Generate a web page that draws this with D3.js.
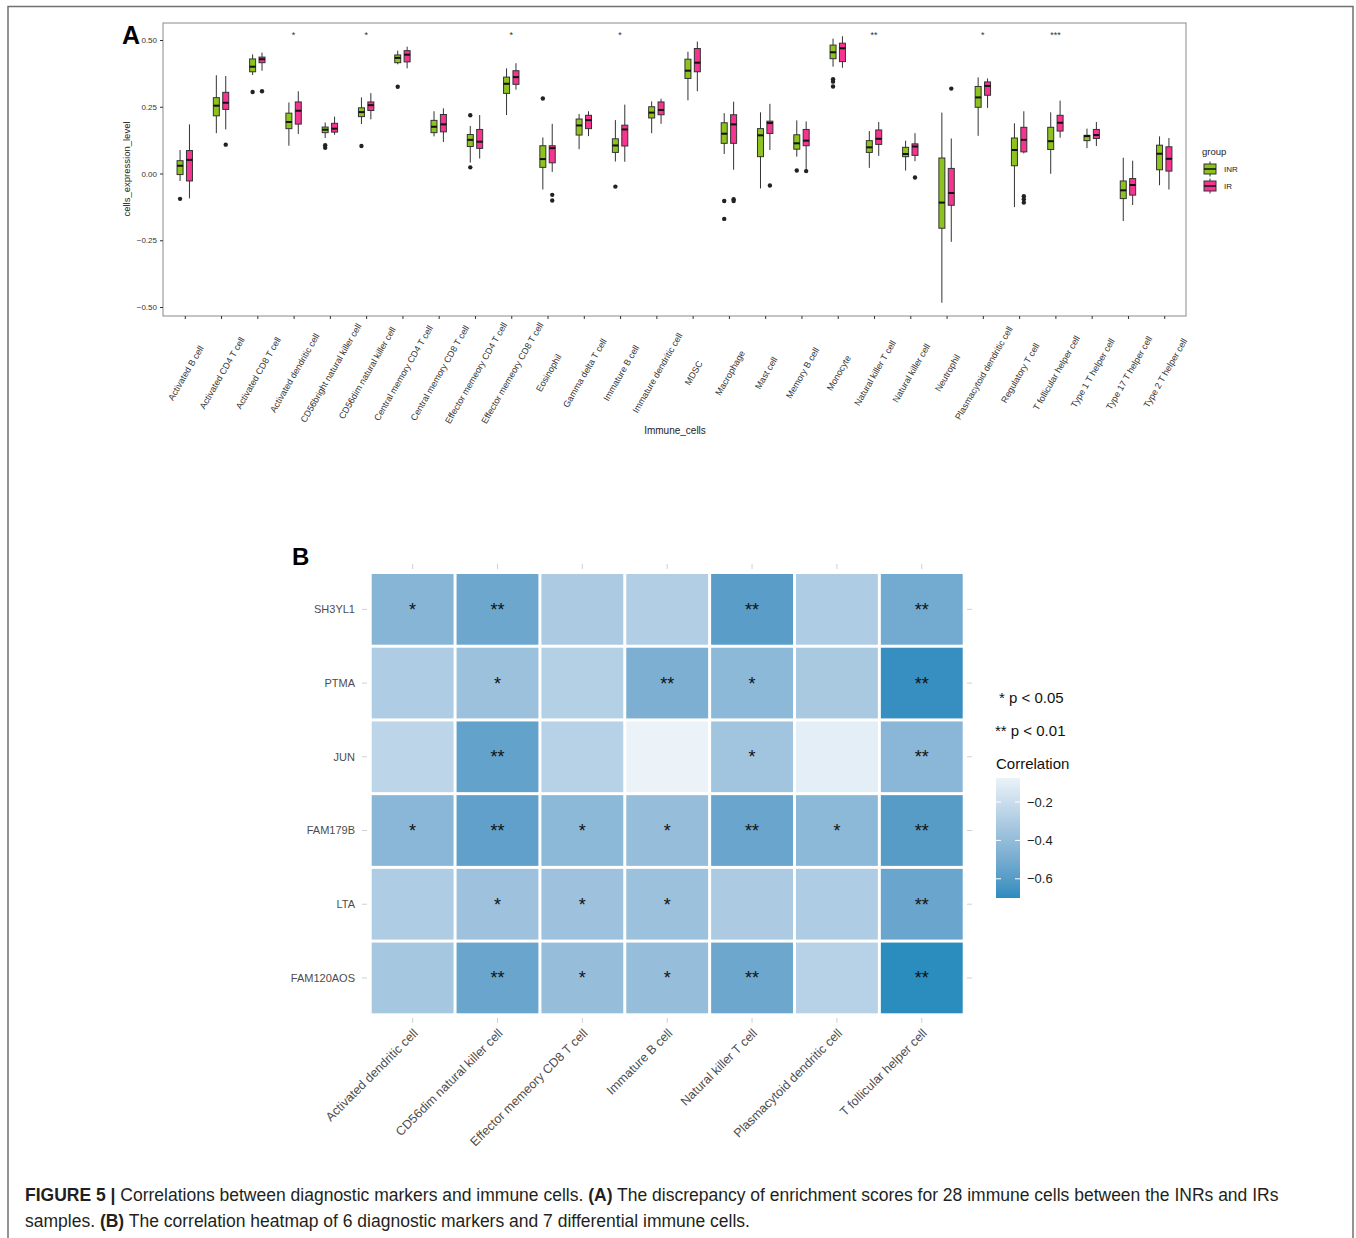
<!DOCTYPE html>
<html>
<head>
<meta charset="utf-8">
<script src="https://cdn.jsdelivr.net/npm/d3@7"></script>
<style>
  body { margin: 0; background: #fff; }
  svg { display: block; font-family: "Liberation Sans", Arial, sans-serif; }
</style>
</head>
<body>
<script>
// ---- Panel A data: 28 immune cells, box stats [lower whisker, q1, median, q3, upper whisker]
var cells = ["Activated B cell", "Activated CD4 T cell", "Activated CD8 T cell", "Activated dendritic cell",
  "CD56bright natural killer cell", "CD56dim natural killer cell", "Central memory CD4 T cell",
  "Central memory CD8 T cell", "Effector memeory CD4 T cell", "Effector memeory CD8 T cell", "Eosinophil",
  "Gamma delta T cell", "Immature  B cell", "Immature dendritic cell", "MDSC", "Macrophage", "Mast cell",
  "Memory B cell", "Monocyte", "Natural killer T cell", "Natural killer cell", "Neutrophil",
  "Plasmacytoid dendritic cell", "Regulatory T cell", "T follicular helper cell", "Type 1 T helper cell",
  "Type 17 T helper cell", "Type 2 T helper cell"];

var inrBox = [
  [-0.028, -0.004, 0.029, 0.048, 0.088], [0.151, 0.216, 0.254, 0.284, 0.368], [0.369, 0.381, 0.400, 0.429, 0.446],
  [0.104, 0.168, 0.193, 0.226, 0.266], [0.133, 0.153, 0.164, 0.174, 0.191], [0.185, 0.213, 0.230, 0.246, 0.285],
  [0.409, 0.415, 0.433, 0.444, 0.460], [0.139, 0.153, 0.175, 0.199, 0.233], [0.041, 0.101, 0.126, 0.146, 0.178],
  [0.219, 0.300, 0.336, 0.361, 0.394], [-0.060, 0.023, 0.054, 0.104, 0.135], [0.091, 0.144, 0.180, 0.204, 0.223],
  [0.045, 0.079, 0.105, 0.130, 0.200], [0.151, 0.208, 0.228, 0.250, 0.270], [0.274, 0.356, 0.385, 0.428, 0.456],
  [0.073, 0.113, 0.149, 0.190, 0.226], [-0.056, 0.063, 0.143, 0.168, 0.229], [0.063, 0.091, 0.113, 0.145, 0.199],
  [0.400, 0.430, 0.454, 0.481, 0.505], [0.021, 0.079, 0.098, 0.123, 0.159], [0.011, 0.063, 0.073, 0.098, 0.123],
  [-0.484, -0.205, -0.109, 0.058, 0.228], [0.141, 0.248, 0.285, 0.326, 0.360], [-0.126, 0.029, 0.088, 0.133, 0.188],
  [-0.001, 0.090, 0.121, 0.173, 0.229], [0.095, 0.123, 0.140, 0.143, 0.168], [-0.178, -0.094, -0.063, -0.028, 0.059],
  [-0.044, 0.014, 0.074, 0.106, 0.139]
];

var irBox = [
  [-0.093, -0.028, 0.051, 0.086, 0.184], [0.165, 0.240, 0.265, 0.304, 0.365], [0.385, 0.415, 0.428, 0.436, 0.453],
  [0.148, 0.185, 0.235, 0.268, 0.308], [0.145, 0.155, 0.168, 0.188, 0.213], [0.203, 0.236, 0.256, 0.268, 0.301],
  [0.394, 0.418, 0.445, 0.460, 0.475], [0.118, 0.156, 0.184, 0.221, 0.244], [0.056, 0.094, 0.119, 0.165, 0.219],
  [0.314, 0.334, 0.361, 0.385, 0.413], [0.006, 0.040, 0.095, 0.104, 0.186], [0.140, 0.168, 0.200, 0.218, 0.233],
  [0.044, 0.103, 0.165, 0.181, 0.258], [0.186, 0.220, 0.238, 0.268, 0.280], [0.308, 0.381, 0.415, 0.468, 0.494],
  [0.014, 0.113, 0.184, 0.220, 0.269], [0.088, 0.150, 0.189, 0.196, 0.261], [0.010, 0.104, 0.123, 0.165, 0.195],
  [0.396, 0.419, 0.469, 0.488, 0.514], [0.066, 0.109, 0.130, 0.163, 0.193], [0.046, 0.068, 0.101, 0.111, 0.151],
  [-0.256, -0.119, -0.073, 0.019, 0.131], [0.246, 0.293, 0.328, 0.343, 0.356], [0.075, 0.081, 0.126, 0.173, 0.233],
  [0.134, 0.159, 0.190, 0.218, 0.273], [0.103, 0.131, 0.144, 0.165, 0.193], [-0.118, -0.081, -0.043, -0.019, 0.048],
  [-0.060, 0.009, 0.055, 0.100, 0.133]
];

var inrOutliers = [[-0.095], [], [0.305], [], [0.106, 0.096], [0.103], [0.325], [], [0.218, 0.023], [], [0.281], [],
  [-0.049], [], [], [-0.103, -0.170], [], [0.011], [0.353, 0.344, 0.326], [], [], [], [], [], [], [], [], []];
var irOutliers = [[], [0.108], [0.308], [], [], [], [], [], [], [], [-0.080, -0.101], [], [], [], [],
  [-0.096, -0.103], [-0.045], [0.009], [], [], [-0.015], [0.318], [], [-0.085, -0.096, -0.109], [], [], [], []];

var sigMarks = ["", "", "", "*", "", "*", "", "", "", "*", "", "", "*", "", "", "", "", "", "", "**", "", "",
  "*", "", "***", "", "", ""];
var yTicks = [-0.5, -0.25, 0, 0.25, 0.5];

// ---- Panel B data: correlation of 6 markers with 7 immune cells
var heatRows = ["SH3YL1", "PTMA", "JUN", "FAM179B", "LTA", "FAM120AOS"];
var heatCols = ["Activated dendritic cell", "CD56dim natural killer cell", "Effector memeory CD8 T cell",
  "Immature  B cell", "Natural killer T cell", "Plasmacytoid dendritic cell", "T follicular helper cell"];
var corr = [
  [-0.44, -0.53, -0.31, -0.29, -0.59, -0.30, -0.51],
  [-0.30, -0.37, -0.28, -0.48, -0.42, -0.32, -0.68],
  [-0.25, -0.56, -0.27, -0.075, -0.35, -0.10, -0.43],
  [-0.43, -0.57, -0.42, -0.39, -0.54, -0.42, -0.60],
  [-0.30, -0.36, -0.36, -0.37, -0.31, -0.30, -0.54],
  [-0.33, -0.54, -0.39, -0.39, -0.53, -0.27, -0.70]
];
var pSig = [
  ["*", "**", "", "", "**", "", "**"],
  ["", "*", "", "**", "*", "", "**"],
  ["", "**", "", "", "*", "", "**"],
  ["*", "**", "*", "*", "**", "*", "**"],
  ["", "*", "*", "*", "", "", "**"],
  ["", "**", "*", "*", "**", "", "**"]
];
var corrTicks = [-0.2, -0.4, -0.6];

var svg = d3.select("body").append("svg")
    .attr("width", 1356)
    .attr("height", 1238);

// outer figure frame
svg.append("rect")
    .attr("x", 8).attr("y", 6.5)
    .attr("width", 1345).attr("height", 1250)
    .attr("fill", "none")
    .attr("stroke", "#707070")
    .attr("stroke-width", 1.5);

// ================= Panel A =================
var x = d3.scalePoint()
    .domain(cells)
    .range([163, 1186])
    .padding(0.6);

var y = d3.scaleLinear()
    .domain([-0.5, 0.5])
    .range([307, 40]);

var gA = svg.append("g");

gA.append("rect")
    .attr("x", 163).attr("y", 23)
    .attr("width", 1023).attr("height", 293)
    .attr("fill", "none")
    .attr("stroke", "#8a8a8a")
    .attr("stroke-width", 1);

var yAxis = gA.append("g")
    .attr("transform", "translate(163,0)")
    .call(d3.axisLeft(y).tickValues(yTicks).tickSize(3).tickFormat(d3.format(".2f")));
yAxis.select(".domain").remove();
yAxis.selectAll("line").attr("stroke", "#333");
yAxis.selectAll("text")
    .attr("fill", "#333")
    .style("font-size", "8px")
    .style("font-family", "'Liberation Sans', Arial, sans-serif");

var xAxis = gA.append("g")
    .attr("transform", "translate(0,316)")
    .call(d3.axisBottom(x).tickSize(3).tickFormat(""));
xAxis.select(".domain").remove();
xAxis.selectAll("line").attr("stroke", "#333");

gA.selectAll(".xlab")
    .data(cells)
  .enter().append("text")
    .attr("class", "xlab")
    .attr("transform", function(d) { return "translate(" + (x(d) + 1) + ",373) rotate(-60)"; })
    .attr("text-anchor", "middle")
    .attr("dy", "0.35em")
    .attr("fill", "#333")
    .style("font-size", "9px")
    .text(function(d) { return d; });

gA.append("text")
    .attr("x", 675).attr("y", 434)
    .attr("text-anchor", "middle")
    .attr("fill", "#222")
    .style("font-size", "10px")
    .text("Immune_cells");

gA.append("text")
    .attr("transform", "translate(130,169) rotate(-90)")
    .attr("text-anchor", "middle")
    .attr("fill", "#222")
    .style("font-size", "9.5px")
    .text("cells_expression_level");

gA.append("text")
    .attr("x", 122).attr("y", 44)
    .attr("fill", "#000")
    .style("font-size", "25px")
    .style("font-weight", "bold")
    .text("A");

// significance marks
gA.selectAll(".sig")
    .data(cells)
  .enter().append("text")
    .attr("class", "sig")
    .attr("x", function(d) { return x(d); })
    .attr("y", 38)
    .attr("text-anchor", "middle")
    .attr("fill", "#333")
    .style("font-size", "9px")
    .text(function(d, i) { return sigMarks[i]; });

var groups = [
  {name: "INR", fill: "#8dc21f", stats: inrBox, out: inrOutliers, dx: -4.7},
  {name: "IR", fill: "#f5358f", stats: irBox, out: irOutliers, dx: 4.7}
];
var boxW = 6;

groups.forEach(function(grp) {
  var g = gA.append("g").attr("class", "grp-" + grp.name);

  var item = g.selectAll("g")
      .data(grp.stats)
    .enter().append("g")
      .attr("transform", function(d, i) { return "translate(" + (x(cells[i]) + grp.dx) + ",0)"; });

  // whiskers
  item.append("line")
      .attr("y1", function(d) { return y(d[0]); })
      .attr("y2", function(d) { return y(d[4]); })
      .attr("stroke", "#333")
      .attr("stroke-width", 1);

  item.append("rect")
      .attr("x", -boxW / 2)
      .attr("width", boxW)
      .attr("y", function(d) { return y(d[3]); })
      .attr("height", function(d) { return Math.max(1, y(d[1]) - y(d[3])); })
      .attr("fill", grp.fill)
      .attr("stroke", "#333")
      .attr("stroke-width", 1);

  item.append("line")
      .attr("x1", -boxW / 2).attr("x2", boxW / 2)
      .attr("y1", function(d) { return y(d[2]); })
      .attr("y2", function(d) { return y(d[2]); })
      .attr("stroke", "#111")
      .attr("stroke-width", 2);

  item.selectAll("circle")
      .data(function(d, i) { return grp.out[i]; })
    .enter().append("circle")
      .attr("cy", function(v) { return y(v); })
      .attr("r", 2.2)
      .attr("fill", "#222");
});

// legend for panel A
var legA = gA.append("g").attr("transform", "translate(1202,0)");
legA.append("text")
    .attr("x", 0).attr("y", 155)
    .attr("fill", "#222")
    .style("font-size", "9.5px")
    .text("group");

var legItem = legA.selectAll(".leg")
    .data(groups)
  .enter().append("g")
    .attr("class", "leg")
    .attr("transform", function(d, i) { return "translate(0," + (169 + i * 17) + ")"; });

legItem.append("line")
    .attr("x1", 8).attr("x2", 8)
    .attr("y1", -7.5).attr("y2", 7.5)
    .attr("stroke", "#333");
legItem.append("rect")
    .attr("x", 2).attr("y", -5)
    .attr("width", 12).attr("height", 10)
    .attr("fill", function(d) { return d.fill; })
    .attr("stroke", "#333");
legItem.append("line")
    .attr("x1", 2).attr("x2", 14)
    .attr("y1", 0).attr("y2", 0)
    .attr("stroke", "#111")
    .attr("stroke-width", 1.5);
legItem.append("text")
    .attr("x", 22).attr("y", 3)
    .attr("fill", "#222")
    .style("font-size", "8px")
    .text(function(d) { return d.name; });

// ================= Panel B =================
var hx = d3.scaleBand()
    .domain(heatCols)
    .range([370.2, 964.2]);

var hy = d3.scaleBand()
    .domain(heatRows)
    .range([572.5, 1014.8]);

var flat = d3.merge(corr);
var corrMin = d3.min(flat),
    corrMax = d3.max(flat);

var color = d3.scaleLinear()
    .domain([corrMin, 0])
    .range(["#2b8cbe", "#ffffff"])
    .interpolate(d3.interpolateLab);

var gB = svg.append("g");

gB.append("text")
    .attr("x", 292).attr("y", 565)
    .attr("fill", "#000")
    .style("font-size", "24px")
    .style("font-weight", "bold")
    .text("B");

var cellData = [];
heatRows.forEach(function(r, i) {
  heatCols.forEach(function(c, j) {
    cellData.push({row: r, col: c, value: corr[i][j], sig: pSig[i][j]});
  });
});

gB.selectAll(".tile")
    .data(cellData)
  .enter().append("rect")
    .attr("class", "tile")
    .attr("x", function(d) { return hx(d.col) + 1.5; })
    .attr("y", function(d) { return hy(d.row) + 1.5; })
    .attr("width", hx.bandwidth() - 3)
    .attr("height", hy.bandwidth() - 3)
    .attr("fill", function(d) { return color(d.value); });

gB.selectAll(".star")
    .data(cellData)
  .enter().append("text")
    .attr("class", "star")
    .attr("x", function(d) { return hx(d.col) + hx.bandwidth() / 2; })
    .attr("y", function(d) { return hy(d.row) + hy.bandwidth() / 2 + 6.5; })
    .attr("text-anchor", "middle")
    .attr("fill", "#111")
    .style("font-size", "18px")
    .text(function(d) { return d.sig; });

// light tick marks on all four sides
var tickCol = "#d0d0d0";
gB.selectAll(".tickTop")
    .data(heatCols)
  .enter().append("line")
    .attr("x1", function(d) { return hx(d) + hx.bandwidth() / 2; })
    .attr("x2", function(d) { return hx(d) + hx.bandwidth() / 2; })
    .attr("y1", 564).attr("y2", 569)
    .attr("stroke", tickCol);
gB.selectAll(".tickBot")
    .data(heatCols)
  .enter().append("line")
    .attr("x1", function(d) { return hx(d) + hx.bandwidth() / 2; })
    .attr("x2", function(d) { return hx(d) + hx.bandwidth() / 2; })
    .attr("y1", 1018).attr("y2", 1023)
    .attr("stroke", tickCol);
gB.selectAll(".tickL")
    .data(heatRows)
  .enter().append("line")
    .attr("x1", 362).attr("x2", 367)
    .attr("y1", function(d) { return hy(d) + hy.bandwidth() / 2; })
    .attr("y2", function(d) { return hy(d) + hy.bandwidth() / 2; })
    .attr("stroke", tickCol);
gB.selectAll(".tickR")
    .data(heatRows)
  .enter().append("line")
    .attr("x1", 967).attr("x2", 972)
    .attr("y1", function(d) { return hy(d) + hy.bandwidth() / 2; })
    .attr("y2", function(d) { return hy(d) + hy.bandwidth() / 2; })
    .attr("stroke", tickCol);

gB.selectAll(".rowlab")
    .data(heatRows)
  .enter().append("text")
    .attr("class", "rowlab")
    .attr("x", 355)
    .attr("y", function(d) { return hy(d) + hy.bandwidth() / 2; })
    .attr("dy", "0.35em")
    .attr("text-anchor", "end")
    .attr("fill", "#4d4d4d")
    .style("font-size", "11px")
    .text(function(d) { return d; });

gB.selectAll(".collab")
    .data(heatCols)
  .enter().append("text")
    .attr("class", "collab")
    .attr("transform", function(d) {
      return "translate(" + (hx(d) + hx.bandwidth() / 2 + 6) + ",1034) rotate(-45)";
    })
    .attr("text-anchor", "end")
    .attr("fill", "#4d4d4d")
    .style("font-size", "12.5px")
    .text(function(d) { return d; });

// legend for panel B
gB.append("text")
    .attr("x", 999).attr("y", 703)
    .attr("fill", "#111")
    .style("font-size", "15px")
    .text("* p < 0.05");
gB.append("text")
    .attr("x", 995).attr("y", 736)
    .attr("fill", "#111")
    .style("font-size", "15px")
    .text("** p < 0.01");
gB.append("text")
    .attr("x", 996).attr("y", 769)
    .attr("fill", "#111")
    .style("font-size", "15px")
    .text("Correlation");

var cb = d3.scaleLinear()
    .domain([corrMax, corrMin])
    .range([778, 898]);

var grad = svg.append("defs").append("linearGradient")
    .attr("id", "corrGrad")
    .attr("x1", 0).attr("y1", 0)
    .attr("x2", 0).attr("y2", 1);
grad.selectAll("stop")
    .data(d3.range(0, 1.0001, 0.05))
  .enter().append("stop")
    .attr("offset", function(t) { return t; })
    .attr("stop-color", function(t) { return color(corrMax + (corrMin - corrMax) * t); });

gB.append("rect")
    .attr("x", 996).attr("y", 778)
    .attr("width", 24).attr("height", 120)
    .attr("fill", "url(#corrGrad)");

var cbTick = gB.selectAll(".cbt")
    .data(corrTicks)
  .enter().append("g")
    .attr("class", "cbt")
    .attr("transform", function(d) { return "translate(0," + cb(d) + ")"; });
cbTick.append("line")
    .attr("x1", 996).attr("x2", 1001)
    .attr("stroke", "#fff");
cbTick.append("line")
    .attr("x1", 1015).attr("x2", 1020)
    .attr("stroke", "#fff");
cbTick.append("text")
    .attr("x", 1027)
    .attr("dy", "0.35em")
    .attr("fill", "#222")
    .style("font-size", "13px")
    .text(function(d) { return d3.format(".1f")(d).replace("-", "\u2212"); });

// ================= Caption =================
var cap = svg.append("g")
    .style("font-size", "17.5px")
    .attr("fill", "#231f20");

var line1 = cap.append("text").attr("x", 25).attr("y", 1201);
line1.append("tspan").style("font-weight", "bold").text("FIGURE 5 | ");
line1.append("tspan").text("Correlations between diagnostic markers and immune cells. ");
line1.append("tspan").style("font-weight", "bold").text("(A)");
line1.append("tspan").text(" The discrepancy of enrichment scores for 28 immune cells between the INRs and IRs");

var line2 = cap.append("text").attr("x", 25).attr("y", 1227);
line2.append("tspan").text("samples. ");
line2.append("tspan").style("font-weight", "bold").text("(B)");
line2.append("tspan").text(" The correlation heatmap of 6 diagnostic markers and 7 differential immune cells.");
</script>
</body>
</html>
